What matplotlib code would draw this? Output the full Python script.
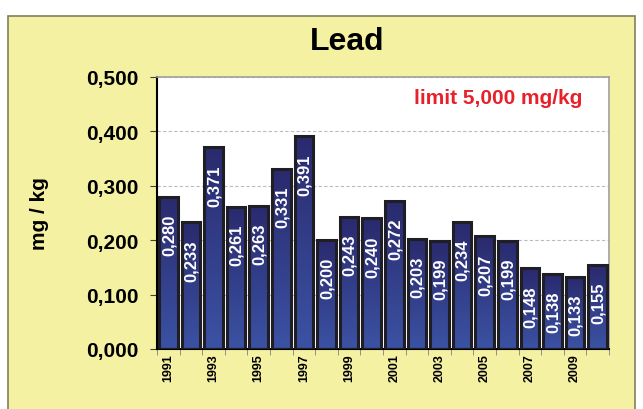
import numpy as np
import matplotlib
matplotlib.use('Agg')
import matplotlib.pyplot as plt
from matplotlib.patches import Rectangle
from matplotlib.colors import LinearSegmentedColormap
from matplotlib.ticker import FixedLocator

plt.rcParams['font.family'] = ['Liberation Sans', 'DejaVu Sans']

years = list(range(1991, 2011))
lead = [0.280, 0.233, 0.371, 0.261, 0.263, 0.331, 0.391, 0.200, 0.243, 0.240,
        0.272, 0.203, 0.199, 0.234, 0.207, 0.199, 0.148, 0.138, 0.133, 0.155]
yticks = [0.0, 0.1, 0.2, 0.3, 0.4, 0.5]

YELLOW = '#F5F1A2'
fig = plt.figure(figsize=(6.43, 4.10), dpi=100)
fig.patch.set_facecolor('white')
# yellow chart panel
fig.patches.append(Rectangle((8 / 643, -0.05), 627 / 643, 1 - 17 / 410 + 0.05,
                             transform=fig.transFigure, facecolor=YELLOW,
                             edgecolor='#80805A', linewidth=1.2, zorder=-5))

ax = fig.add_axes([157 / 643, 60 / 410, 452 / 643, 272 / 410])
ax.set_zorder(2)
ax.set_facecolor('white')
x = np.arange(len(years))
w = 0.82

# gradient fill for bars
cmap = LinearSegmentedColormap.from_list('navy', ['#3B52A3', '#2A2A6E'])
grad = np.linspace(0, 1, 100).reshape(-1, 1)
for xi, v in zip(x, lead):
    ax.imshow(grad, cmap=cmap, origin='lower', aspect='auto',
              extent=(xi - w / 2, xi + w / 2, 0, v), zorder=2)
ax.bar(x, lead, width=w, facecolor='none', edgecolor='#1E1E24',
       linewidth=2.2, zorder=3)
ax.set_xlim(-0.5, len(years) - 0.5)
ax.set_ylim(0, 0.5)

for xi, v in zip(x, lead):
    ax.text(xi + 0.03, v - 0.031, f'{v:.3f}'.replace('.', ','), rotation=90,
            ha='center', va='top', color='white', fontsize=12,
            fontweight='bold', zorder=4)

ax.yaxis.grid(True, color='#BBBBBB', linestyle=(0, (3, 2)), linewidth=0.8)
ax.set_axisbelow(True)
ax.set_yticks(yticks)
ax.set_yticklabels([f'{t:.3f}'.replace('.', ',') for t in yticks],
                   fontsize=15, fontweight='bold')
ax.set_xticks(x[::2])
ax.set_xticklabels([str(y) for y in years[::2]], rotation=90,
                   fontsize=9, fontweight='bold')
ax.tick_params(axis='x', length=0, pad=3)
ax.xaxis.set_minor_locator(FixedLocator(np.arange(-0.5, len(years), 1.0)))
ax.tick_params(axis='x', which='minor', length=4, color='#808080')
ax.tick_params(axis='y', length=5, pad=8, color='#404040')

for s in ['top', 'right']:
    ax.spines[s].set_color('#A0A0A0')
    ax.spines[s].set_linewidth(1.2)
ax.spines['left'].set_color('black')
ax.spines['left'].set_linewidth(1.5)
ax.spines['bottom'].set_color('black')
ax.spines['bottom'].set_linewidth(1.5)

ax.set_ylabel('mg / kg', fontsize=15, fontweight='bold', labelpad=27)
fig.text(347 / 643, 1 - 42 / 410, 'Lead', ha='center', va='center',
         fontsize=23, fontweight='bold')
ax.text(0.940, 0.926, 'limit 5,000 mg/kg', transform=ax.transAxes,
        ha='right', va='center', color='#E8202A', fontsize=15,
        fontweight='bold')

fig.savefig('out.png', dpi=100, facecolor=fig.get_facecolor())
